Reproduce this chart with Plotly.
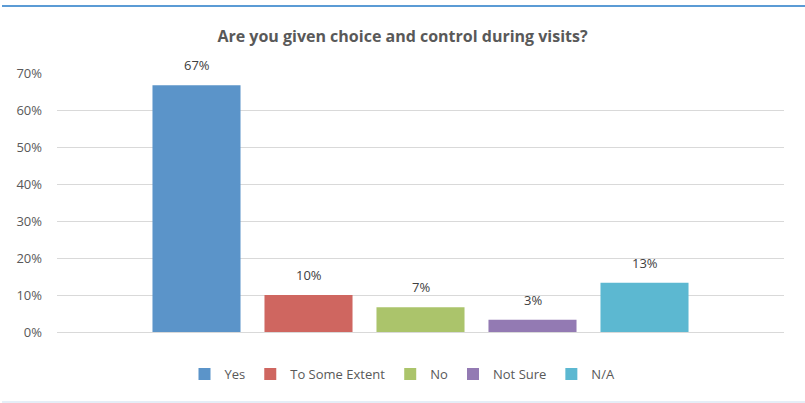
import plotly.graph_objects as go

categories = ["Yes", "To Some Extent", "No", "Not Sure", "N/A"]
values = [0.667, 0.10, 0.067, 0.033, 0.133]
colors = ["#5b94c9", "#cf6660", "#abc46b", "#937ab3", "#5cb8d1"]
y_ticks = [0, 0.1, 0.2, 0.3, 0.4, 0.5, 0.6, 0.7]
y_tick_labels = ["0%", "10%", "20%", "30%", "40%", "50%", "60%", "70%"]
title_text = "Are you given choice and control during visits?"

FONT = "Open Sans"
fig = go.Figure()
annotations = []
for name, val, col in zip(categories, values, colors):
    fig.add_trace(go.Bar(
        x=[name], y=[val], name=name, width=0.786,
        marker=dict(color=col, line=dict(width=0)),
    ))
    annotations.append(dict(
        x=name, y=val, xref="x", yref="y", text=f"{round(val*100)}%",
        showarrow=False, yanchor="bottom", yshift=9,
        font=dict(family=FONT, size=13, color="#404040"),
    ))

half = 727 / 224
fig.update_layout(
    width=805, height=403,
    margin=dict(l=57, r=21, t=73, b=71),
    paper_bgcolor="white", plot_bgcolor="white",
    barmode="overlay",
    title=dict(text="<b>" + title_text + "</b>", x=0.5, xref="container",
               y=(403 - 36) / 403, yanchor="middle",
               font=dict(family=FONT, size=16, color="#595959")),
    font=dict(family=FONT, size=13, color="#595959"),
    showlegend=True,
    legend=dict(orientation="h", xref="container", yref="container",
                x=0.5, xanchor="center", y=(403 - 374) / 403, yanchor="middle",
                font=dict(family=FONT, size=13, color="#595959"),
                itemwidth=30, traceorder="normal"),
    xaxis=dict(type="category", categoryorder="array", categoryarray=categories,
               showticklabels=False, showgrid=False, zeroline=False,
               showline=False, range=[2 - half, 2 + half], fixedrange=True),
    yaxis=dict(range=[0, 0.7], tickvals=y_ticks, ticktext=y_tick_labels,
               showgrid=True, gridcolor="#d9d9d9", gridwidth=1,
               zeroline=True, zerolinecolor="#d9d9d9", zerolinewidth=1,
               showline=False, ticks="", ticklabelstandoff=14, fixedrange=True,
               tickfont=dict(family=FONT, size=13, color="#595959")),
    annotations=annotations,
    shapes=[
        dict(type="line", xref="paper", yref="paper",
             x0=-55/727, x1=(805-57)/727, y0=1 + 67/258.7, y1=1 + 67/258.7,
             line=dict(color="#5b9bd5", width=2)),
        dict(type="line", xref="paper", yref="paper",
             x0=-55/727, x1=(805-57)/727, y0=-70/258.7, y1=-70/258.7,
             line=dict(color="#dde9f4", width=1.5)),
    ],
)

fig.write_html("out.html", config={"displayModeBar": False},
               post_script="document.body.style.margin='0';")
